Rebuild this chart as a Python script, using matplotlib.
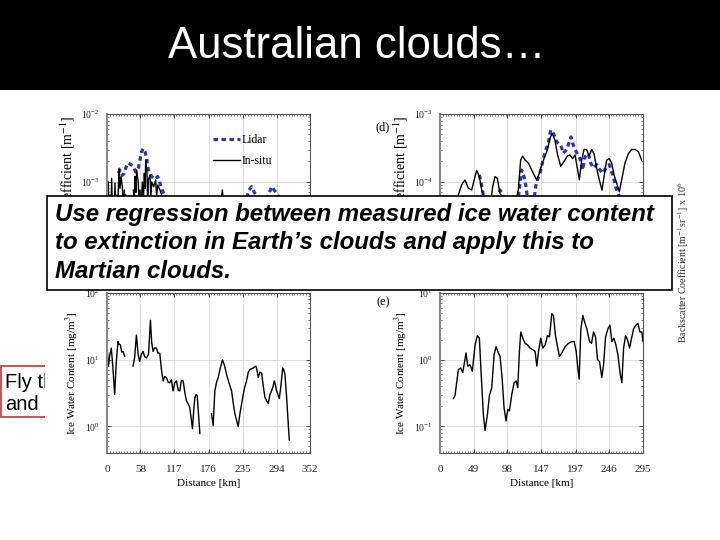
import numpy as np
import matplotlib
matplotlib.use('Agg')
import matplotlib.pyplot as plt
from matplotlib.patches import Rectangle
from matplotlib.ticker import FixedLocator, MultipleLocator, LogLocator, NullFormatter, LogFormatterMathtext
from matplotlib.transforms import Bbox, TransformedBbox

nan = np.nan

# ---------------- text ----------------
title = "Australian clouds\u2026"
box_lines = ["Use regression between measured ice water content",
             "to extinction in Earth\u2019s clouds and apply this to",
             "Martian clouds."]
side_lines = ["Fly th", "and"]

# ---------------- tick labels ----------------
left_xticks = [0, 58, 117, 176, 235, 294, 352]
right_xticks = [0, 49, 98, 147, 197, 246, 295]
tl_yticks = [1e-3, 1e-2]
tr_yticks = [1e-4, 1e-3]
bl_yticks = [1e0, 1e1, 1e2]
br_yticks = [1e-1, 1e0, 1e1]

# ---------------- top-left: extinction (m^-1) ----------------
tl_lidar_km = [19.7, 22.5, 26.6, 30.0, 33.0, 37.0, 41.6, 45.7, 49.7, 54.3,
               57.2, 60.1, 63.0, 65.9, 68.8, 70.5, 72.8, 77.5, 83.2, 87.9,
               91.9, 95.9, 99.4, 105, 120, 150, 180, 210, 240, 246.2,
               250.9, 255.5, 259.5, 265, 275, 285.5, 291, 296.8, 305, 320]
tl_lidar_val = [1.34e-3, 1.5e-3, 1.25e-3, 1.34e-3, 1.65e-3, 1.9e-3, 1.8e-3, 1.7e-3, 1.4e-3, 1.6e-3,
                2.1e-3, 2.8e-3, 3.1e-3, 2.8e-3, 2.2e-3, 1.7e-3, 1.4e-3, 1.2e-3, 1.1e-3, 1.2e-3,
                9.6e-4, 7.6e-4, 6.4e-4, 4e-4, 2.5e-4, 1.5e-4, 2e-4, 3e-4, 5e-4, 7.6e-4,
                8.5e-4, 7e-4, 6.2e-4, 4e-4, 5e-4, 8.5e-4, 7.4e-4, 6.2e-4, 4e-4, 2e-4]

tl_insitu_km = [1.2, 2.3, 3.5, 5.2, 6.5, 8.1, 9.5, 11, 12.5, 13.9,
                15.3, 16.8, 18.5, 20.8, 22.5, 24.3, 26.6, 28.3, 30, 31.2,
                32.4, nan, 45.7, 47, 48.6, 50, 51.4, 54.3, 55.8, 57.2,
                59, 61.3, 63, 64.7, 66, 67.1, 69.4, 70.5, 71.7, 74.6,
                76, 77.5, 80.9, 84.4, 86, 87.9, 91.9, 94.8, 100, 110,
                120, 130, 140, 150, 161, nan, 181, 190, 197, 200,
                203, 215, 225, 240, 255, 270, 285, 300, 310, 316]
tl_insitu_val = [7.6e-4, 1.0e-3, 3e-4, 6.4e-4, 3e-4, 1.13e-3, 3.5e-4, 6.1e-4, 3e-4, 9.6e-4,
                 3.5e-4, 6.4e-4, 4e-4, 1.6e-3, 8e-4, 1.2e-3, 8.5e-4, 4e-4, 7.6e-4, 4e-4,
                 6.4e-4, nan, 7.6e-4, 4e-4, 1.2e-3, 7e-4, 1.5e-3, 9.6e-4, 4e-4, 7.6e-4,
                 4e-4, 1.0e-3, 5e-4, 1.34e-3, 8e-4, 2.1e-3, 1.34e-3, 5e-4, 1.07e-3, 1.27e-3,
                 6e-4, 1.0e-3, 8.5e-4, 1.07e-3, 6e-4, 9e-4, 7.6e-4, 6.4e-4, 4e-4, 3e-4,
                 3.5e-4, 2.5e-4, 2e-4, 1.5e-4, 1e-4, nan, 1.5e-4, 3e-4, 4.5e-4, 7.6e-4,
                 4e-4, 3e-4, 1.5e-4, 3e-4, 4e-4, 3e-4, 2.5e-4, 3e-4, 2.5e-4, 1e-4]

# ---------------- top-right: extinction (m^-1) ----------------
tr_lidar_km = [57.2, 59.5, 62.5, 66, 75, 84, 87.2, 89.5, 92, 100,
               110, 114, 116.3, 118.7, 122, 125, 127, 132, 137, 139.5,
               142, 145.3, 150.2, 154, 157.4, 160.8, 164.7, 169.5, 175.4, 179.2,
               184, 188, 190.4, 192.8, 196.2, 199.6, 203.4, 207.3, 210.7, 215.6,
               219, 222.8, 227.7, 232.5, 236.4, 241.2, 246.1, 249.5, 252.9, 255.8,
               259.2, 261.6, 266, 272, 280]
tr_lidar_val = [1.27e-4, 1.0e-4, 6.8e-5, 4e-5, 3e-5, 5e-5, 7.6e-5, 7.0e-5, 6e-5, 3e-5,
                3.5e-5, 6e-5, 9.6e-5, 1.5e-4, 1.2e-4, 8.5e-5, 6e-5, 4e-5, 6e-5, 9e-5,
                1.1e-4, 1.34e-4, 2.2e-4, 3e-4, 3.7e-4, 5.8e-4, 5.2e-4, 3.9e-4, 3.5e-4, 2.65e-4,
                3e-4, 3.9e-4, 4.6e-4, 3.7e-4, 3e-4, 2.6e-4, 2.2e-4, 1.5e-4, 2.35e-4, 2.6e-4,
                1.9e-4, 1.6e-4, 1.8e-4, 1.5e-4, 1.34e-4, 1.6e-4, 1.8e-4, 1.4e-4, 1.07e-4, 8.1e-5,
                6.8e-5, 5.7e-5, 4e-5, 5e-5, 4e-5]

tr_insitu_km = [19.4, 26.6, 31.5, 36.3, 41.2, 46, 50.9, 53.3, 57.2, 60.6,
                63.9, 68, 72, 76.5, 80, 83.3, 87.2, 92, 97, 103,
                108, 113.8, 117.2, 120.1, 123.5, 128.4, 133.2, 138, 140.5, 144.4,
                147.7, 152.6, 156, 159.8, 163.2, 167.1, 170.5, 175.4, 180.2, 185,
                188.9, 192.8, 196.2, 199.6, 202.5, 205.9, 209.3, 213.1, 216.5, 220.4,
                223.8, 227.7, 231.5, 235.4, 238.8, 242.2, 246.1, 249.5, 252.9, 256.7,
                260.6, 264, 268.8, 273.7, 278.5, 283.4, 288.2, 293]
tr_insitu_val = [3e-5, 6.4e-5, 9.1e-5, 1.07e-4, 8.1e-5, 7.6e-5, 1.2e-4, 1.47e-4, 1.2e-4, 7.6e-5,
                 6.1e-5, 4e-5, 3.5e-5, 8.5e-5, 1.2e-4, 1.13e-4, 6.7e-5, 5.8e-5, 4.5e-5, 3.5e-5,
                 4e-5, 7.6e-5, 2.1e-4, 2.4e-4, 2.1e-4, 1.9e-4, 1.5e-4, 1.2e-4, 1.07e-4, 1.34e-4,
                 1.78e-4, 2.4e-4, 2.95e-4, 4.4e-4, 5.2e-4, 4.1e-4, 2.6e-4, 1.7e-4, 2.0e-4, 2.4e-4,
                 2.5e-4, 2.2e-4, 2.5e-4, 1.6e-4, 1.07e-4, 2.1e-4, 3.0e-4, 3.0e-4, 2.4e-4, 3.0e-4,
                 2.6e-4, 1.6e-4, 1.07e-4, 7.6e-5, 1.27e-4, 2.1e-4, 2.2e-4, 1.9e-4, 1.27e-4, 9.6e-5,
                 7.2e-5, 1.07e-4, 1.9e-4, 2.6e-4, 3.0e-4, 3.0e-4, 2.8e-4, 2.1e-4]

# ---------------- bottom-left: ice water content (mg/m^3) ----------------
bl_km = [0, 2.3, 5, 7.5, 10, 13.3, 16, 19.1, 21, 23.2,
         25.5, 27.8, 30.7, nan, 45.2, 48, 51, 54, 56.7, 59.5,
         62.5, 65.5, 68.3, 72, 75.3, 77.5, 79.9, 82.5, 85.7, 88.5,
         91.5, 94.5, 97.3, 100, 103, 106, 108.9, 111.5, 114.6, 117.5,
         120.4, 123.5, 126.2, 129, 132, 135, 137.8, 140.5, 143.6, 146,
         148.2, 150.5, 152.3, 154.5, 156.3, 158.5, 161, nan, 181.2, 184.1,
         187, 190, 192.8, 196.5, 200.3, 204, 207.3, 211.5, 216, 219,
         221.8, 225, 227.5, 230.4, 233.5, 236.2, 239, 242, 245, 247.8,
         250.5, 253.6, 256, 258.2, 260, 262.3, 265, 268.1, 271, 273.9,
         277, 279.7, 282.5, 285.4, 288, 290.1, 292, 294.1, 296.5, 298.8,
         301.5, 304.6, 306.5, 308.6, 310, 311.5, 313.5, 316.1]
bl_iwc = [16.7, 8.0, 12, 14.9, 8, 3.0, 9, 18.7, 17, 16.7,
          13, 13.3, 11.2, nan, 8.0, 11, 23.4, 12, 9.4, 12,
          13.3, 11, 10.6, 12, 39, 18, 13.3, 15, 14.9, 12.5,
          12.5, 7, 4.8, 5.6, 5.4, 4.6, 4.5, 5.0, 3.4, 4.5,
          4.8, 3.5, 3.4, 4.9, 4.8, 3.2, 2.4, 2.2, 1.9, 1.3,
          0.92, 1.8, 2.7, 3.0, 2.9, 1.6, 0.78, nan, 1.54, 1.03,
          3.4, 4.6, 5.4, 7.5, 10, 8, 6.0, 4.5, 3.4, 2.2,
          1.54, 1.2, 0.99, 1.54, 2.2, 3.0, 3.9, 4.8, 6.5, 7.1,
          7.3, 7.5, 7.8, 8.0, 7.0, 5.4, 6.5, 6.3, 4.0, 2.7,
          2.4, 2.2, 3.0, 3.4, 4.0, 4.8, 4.2, 3.4, 3.0, 2.6,
          4.0, 7.5, 7.0, 6.0, 4.0, 2.7, 1.4, 0.62]

# ---------------- bottom-right: ice water content (mg/m^3) ----------------
br_km = [19.4, 21.8, 26.7, 30, 33, 35.4, 37.8, 40.3, 43.7, 47,
         51, 54.3, 57.2, 60.1, 63, 65.5, 68.9, 71.8, 75.2, 78.6,
         81.5, 84.9, 87.3, 90.2, 93.1, 96, 98.5, 100.9, 104.3, 107.7,
         110.6, 113, 115.4, 117.4, 120.3, 123.7, 127.1, 131, 134.8, 138.2,
         140.7, 143.1, 146.5, 149.4, 152.8, 156.2, 159.1, 162.5, 164.9, 167.8,
         170.7, 173.6, 177, 181.9, 186.7, 191.6, 195, 197.9, 200.3, 202.2,
         204.7, 207.6, 210, 213.4, 217.3, 220.2, 223.1, 226, 228.9, 231.8,
         235.2, 237.7, 240.6, 244, 246.9, 249.8, 252.7, 255.6, 258.5, 262,
         264.3, 266.8, 269.7, 272.6, 275.5, 278.4, 281.3, 284.7, 287.6, 290.5,
         293.4, 294.9]
br_iwc = [0.26, 0.29, 0.71, 0.75, 0.64, 0.89, 1.26, 0.80, 0.84, 0.67,
          1.67, 2.3, 2.1, 0.54, 0.15, 0.087, 0.15, 0.29, 0.38, 1.19,
          1.57, 1.26, 1.12, 0.54, 0.19, 0.12, 0.18, 0.17, 0.30, 0.45,
          0.48, 0.38, 1.33, 2.6, 2.1, 1.76, 1.67, 1.49, 1.41, 1.33,
          0.80, 1.33, 2.1, 1.49, 1.67, 2.3, 2.2, 4.9, 4.6, 2.3,
          1.57, 1.12, 1.26, 1.57, 1.76, 1.87, 1.87, 1.33, 0.75, 0.51,
          2.9, 4.6, 3.7, 2.9, 1.87, 1.76, 2.6, 2.2, 1.0, 0.94,
          0.54, 0.84, 2.2, 2.9, 3.3, 1.87, 2.1, 1.67, 1.19, 0.60,
          0.45, 1.49, 2.3, 1.97, 1.49, 2.1, 2.9, 3.3, 3.5, 2.6,
          2.6, 1.87]

# ---------------- figure ----------------
plt.rcParams['font.family'] = ['Liberation Serif', 'DejaVu Serif']
plt.rcParams['mathtext.fontset'] = 'stix'
SANS = ['Liberation Sans', 'DejaVu Sans']

W, H = 720, 540
fig = plt.figure(figsize=(7.2, 5.4), dpi=100)
fig.patch.set_facecolor('white')


def fx(px):
    return px / W


def fy(py):
    return 1 - py / H


# header
fig.add_artist(Rectangle((0, fy(90)), 1, 90 / H, transform=fig.transFigure,
                         facecolor='black', edgecolor='none', zorder=1))
fig.text(fx(357), fy(46), title, color='white', fontsize=31.5, family=SANS,
         ha='center', va='center', zorder=2)

# left red-bordered box, partly covered by the picture
fig.add_artist(Rectangle((fx(1), fy(417)), fx(300), 51 / H, transform=fig.transFigure,
                         facecolor='white', edgecolor='#c04848', lw=1.3, zorder=1))
clipbb = TransformedBbox(Bbox([[0, 0], [fx(45), 1]]), fig.transFigure)
for i, s in enumerate(side_lines):
    t = fig.text(fx(5), fy(383 + i * 22), s, fontsize=14.5, family=SANS,
                 ha='left', va='center', color='black', zorder=1.5)
    t.set_clip_on(True)
    t.set_clip_box(clipbb)

# white picture background
fig.add_artist(Rectangle((fx(45), fy(510)), fx(655), 418 / H, transform=fig.transFigure,
                         facecolor='white', edgecolor='none', zorder=2))

above_box = TransformedBbox(Bbox([[0, fy(196)], [1, 1]]), fig.transFigure)


def make_ax(rect, xmax, xticks, yticks, ylim, minor_step, show_xlabels):
    ax = fig.add_axes(rect, zorder=3)
    ax.set_yscale('log')
    ax.set_xlim(0, xmax)
    ax.set_ylim(*ylim)
    ax.xaxis.set_major_locator(FixedLocator(xticks))
    if show_xlabels:
        ax.set_xticklabels([str(v) for v in xticks])
    else:
        ax.set_xticklabels([])
    ax.xaxis.set_minor_locator(MultipleLocator(minor_step))
    ax.yaxis.set_major_locator(FixedLocator(yticks))
    ax.yaxis.set_major_formatter(LogFormatterMathtext())
    ax.yaxis.set_minor_locator(LogLocator(base=10, subs=np.arange(2, 10), numticks=20))
    ax.yaxis.set_minor_formatter(NullFormatter())
    ax.grid(True, which='major', color='#dcdcdc', lw=0.7)
    ax.tick_params(which='both', direction='in', top=True, right=True, colors='#444444')
    ax.tick_params(which='major', length=3, width=0.7)
    ax.tick_params(which='minor', length=1.6, width=0.5)
    ax.tick_params(axis='x', labelsize=8, pad=9, labelcolor='#222222')
    ax.tick_params(axis='y', labelsize=7, pad=5, labelcolor='#222222')
    for sp in ax.spines.values():
        sp.set_color('#555555')
        sp.set_linewidth(0.8)
    ax.spines['left'].set_color('#8a8a8a')
    ax.spines['left'].set_linewidth(1.6)
    return ax


top_h = 163 / H
bot_h = 160 / H
wid = 203 / W
ax_tl = make_ax([fx(107), fy(277), wid, top_h], 352, left_xticks, tl_yticks,
                (10 ** -4.4, 1e-2), 5, False)
ax_tr = make_ax([fx(440), fy(277), wid, top_h], 295, right_xticks, tr_yticks,
                (10 ** -5.4, 1e-3), 4, False)
ax_bl = make_ax([fx(107), fy(453), wid, bot_h], 352, left_xticks, bl_yticks,
                (10 ** -0.4, 1e2), 5, True)
ax_br = make_ax([fx(440), fy(453), wid, bot_h], 295, right_xticks, br_yticks,
                (10 ** -1.4, 1e1), 4, True)

blue = '#2a36b8'
lidar_kw = dict(color=blue, lw=2.3, dashes=(1.4, 1.1))
insitu_kw = dict(color='black', lw=1.0)

ax_tl.plot(tl_lidar_km, tl_lidar_val, label='Lidar', **lidar_kw)
ax_tl.plot(tl_insitu_km, tl_insitu_val, label='In-situ', **insitu_kw)
ax_tr.plot(tr_lidar_km, tr_lidar_val, **lidar_kw)
ax_tr.plot(tr_insitu_km, tr_insitu_val, **insitu_kw)
ax_bl.plot(bl_km, bl_iwc, **insitu_kw)
ax_br.plot(br_km, br_iwc, **insitu_kw)

ax_tl.legend(loc='upper left', bbox_to_anchor=(0.5, 0.905), frameon=False,
             fontsize=8.5, handlelength=2.3, handletextpad=0.1, labelspacing=0.75,
             borderaxespad=0)

ext_label = 'Extinction Coefficient [m$^{-1}$]'
iwc_label = 'Ice Water Content [mg/m$^3$]'
for ax in (ax_tl, ax_tr):
    ax.set_ylabel(ext_label, fontsize=10, labelpad=3)
    ax.yaxis.label.set_clip_on(True)
    ax.yaxis.label.set_clip_box(above_box)
for ax in (ax_bl, ax_br):
    ax.set_ylabel(iwc_label, fontsize=8, labelpad=3)
    ax.set_xlabel('Distance [km]', fontsize=8, labelpad=3)

fig.text(fx(383), fy(127), '(d)', fontsize=9, ha='center', va='center', zorder=4)
fig.text(fx(383), fy(302), '(e)', fontsize=9, ha='center', va='center', zorder=4)
fig.text(fx(683), fy(262), 'Backscatter Coefficient [m$^{-1}$sr$^{-1}$] x 10$^{6}$',
         rotation=90, fontsize=7.2, ha='center', va='center', color='#333333', zorder=4)

# overlay text box
fig.add_artist(Rectangle((fx(47), fy(290)), fx(625), 94 / H, transform=fig.transFigure,
                         facecolor='white', edgecolor='black', lw=1.2, zorder=10))
for i, s in enumerate(box_lines):
    fig.text(fx(55), fy(214 + i * 28.5), s, fontsize=17.3, family=SANS,
             fontweight='bold', fontstyle='italic', ha='left', va='center', zorder=11)

fig.savefig('out.png', dpi=100, facecolor='white')
